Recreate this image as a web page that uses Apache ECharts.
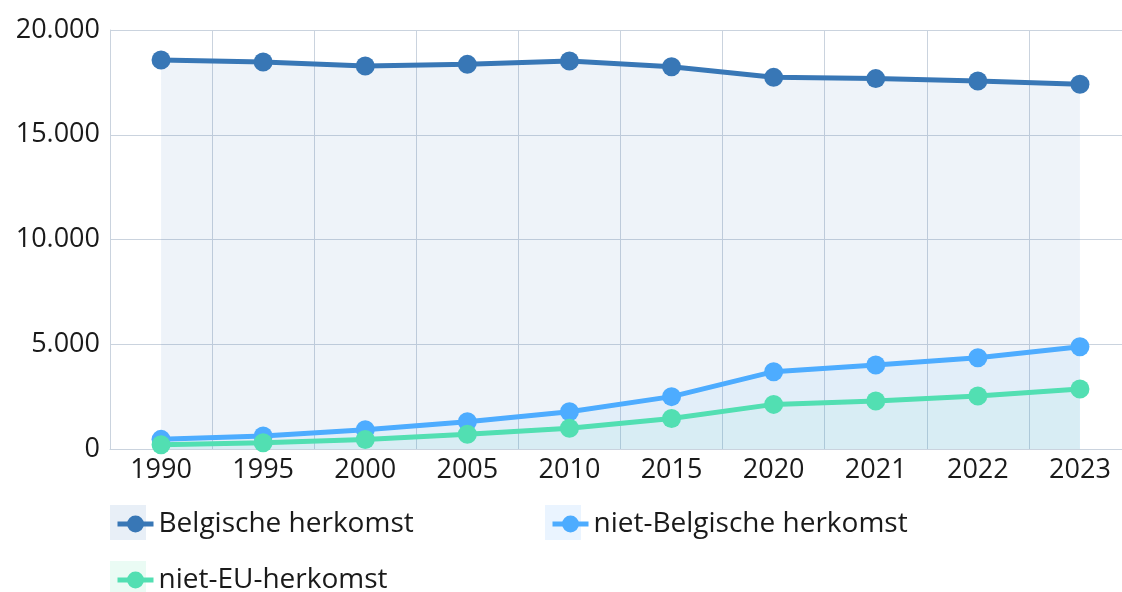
<!DOCTYPE html>
<html>
<head>
<meta charset="utf-8">
<script src="https://cdn.jsdelivr.net/npm/echarts@6/dist/echarts.min.js"></script>
<style>
  html, body { margin: 0; padding: 0; background: #fff; overflow: hidden; }
  #chart { width: 1131px; height: 592px; }
</style>
</head>
<body>
<div id="chart"></div>
<script>
const years = ['1990', '1995', '2000', '2005', '2010', '2015', '2020', '2021', '2022', '2023']
const belgisch = [18570, 18470, 18280, 18360, 18520, 18250, 17740, 17680, 17570, 17410]
const nietBelgisch = [460, 620, 920, 1300, 1780, 2500, 3690, 4010, 4360, 4880]
const nietEU = [200, 300, 450, 700, 990, 1460, 2130, 2290, 2530, 2860]
const yTicks = { min: 0, max: 20000, interval: 5000 }

const font = '"Open Sans", "Noto Sans", sans-serif'
const textColor = '#1a1a1a'
const gridColor = '#cad3de'

const lineSeries = (name, data, color, area) => ({
  name,
  type: 'line',
  data,
  symbol: 'circle',
  symbolSize: 19,
  lineStyle: { width: 5, color },
  itemStyle: { color },
  areaStyle: { color: area, origin: 'start' },
  emphasis: { disabled: true }
})

const legendAt = (name, left, top) => ({
  data: [name],
  left,
  top,
  itemWidth: 36,
  itemHeight: 21,
  selectedMode: false,
  lineStyle: { width: 5 },
  textStyle: { fontFamily: font, fontSize: 28, color: textColor }
})

const chart = echarts.init(document.getElementById('chart'))
chart.setOption({
  animation: false,
  grid: { left: 110, top: 30, right: 0, bottom: 143 },
  xAxis: {
    type: 'category',
    data: years,
    boundaryGap: true,
    axisLine: { lineStyle: { color: gridColor } },
    axisTick: { show: false },
    axisLabel: { fontFamily: font, fontSize: 27, color: textColor, margin: 8, interval: 0 },
    splitLine: { show: true, lineStyle: { color: gridColor } }
  },
  yAxis: {
    type: 'value',
    min: yTicks.min,
    max: yTicks.max,
    interval: yTicks.interval,
    axisLine: { show: true, lineStyle: { color: gridColor } },
    axisTick: { show: false },
    axisLabel: {
      fontFamily: font,
      fontSize: 27,
      color: textColor,
      margin: 10,
      formatter: v => String(v).replace(/\B(?=(\d{3})+(?!\d))/g, '.')
    },
    splitLine: { lineStyle: { color: gridColor } }
  },
  legend: [
    legendAt('Belgische herkomst', 110, 505),
    legendAt('niet-Belgische herkomst', 545, 505),
    legendAt('niet-EU-herkomst', 110, 561)
  ],
  // lichte achtergrondvakjes achter de legend-iconen
  graphic: [
    { type: 'rect', z: -1, shape: { x: 110, y: 505, width: 36, height: 35 }, style: { fill: '#e8eff7' } },
    { type: 'rect', z: -1, shape: { x: 545, y: 505, width: 36, height: 35 }, style: { fill: '#eaf4ff' } },
    { type: 'rect', z: -1, shape: { x: 110, y: 561, width: 36, height: 35 }, style: { fill: '#eafbf4' } }
  ],
  series: [
    lineSeries('Belgische herkomst', belgisch, '#3877b6', 'rgba(56, 119, 182, 0.12)'),
    lineSeries('niet-Belgische herkomst', nietBelgisch, '#4dacff', 'rgba(77, 172, 255, 0.1)'),
    lineSeries('niet-EU-herkomst', nietEU, '#52dfb2', 'rgba(82, 223, 178, 0.1)')
  ]
})
</script>
</body>
</html>
